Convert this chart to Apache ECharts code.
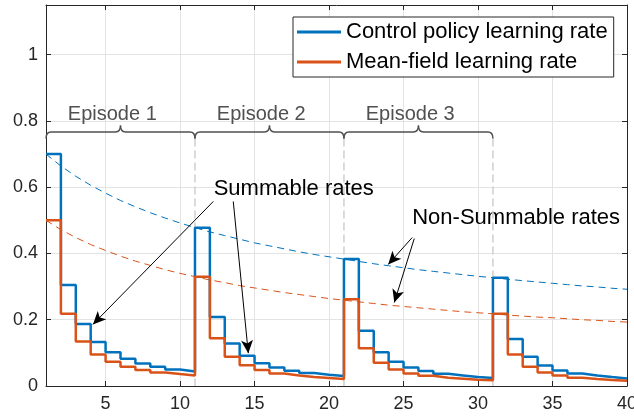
<!DOCTYPE html>
<html>
<head>
<meta charset="utf-8">
<script src="https://cdn.jsdelivr.net/npm/echarts@6/dist/echarts.min.js"></script>
<style>
  html, body { margin: 0; padding: 0; background: #fff; }
  #chart { width: 634px; height: 419px; }
</style>
</head>
<body>
<div id="chart"></div>
<script>
  // iteration index (each episode is 10 iterations long)
  const iterations = [1, 2, 3, 4, 5, 6, 7, 8, 9, 10, 11, 12, 13, 14, 15, 16, 17, 18, 19, 20,
    21, 22, 23, 24, 25, 26, 27, 28, 29, 30, 31, 32, 33, 34, 35, 36, 37, 38, 39, 40];

  // summable (stair) rates
  const controlRate = [
    0.700, 0.305, 0.187, 0.133, 0.102, 0.082, 0.068, 0.058, 0.050, 0.044,
    0.478, 0.208, 0.128, 0.091, 0.069, 0.056, 0.046, 0.039, 0.034, 0.030,
    0.383, 0.167, 0.102, 0.073, 0.056, 0.045, 0.037, 0.032, 0.027, 0.024,
    0.327, 0.142, 0.088, 0.062, 0.047, 0.038, 0.032, 0.027, 0.023, 0.021];
  const meanFieldRate = [
    0.500, 0.218, 0.134, 0.095, 0.073, 0.058, 0.048, 0.041, 0.036, 0.032,
    0.330, 0.144, 0.088, 0.063, 0.048, 0.038, 0.032, 0.027, 0.024, 0.021,
    0.262, 0.114, 0.070, 0.050, 0.038, 0.031, 0.025, 0.022, 0.019, 0.017,
    0.218, 0.095, 0.058, 0.041, 0.032, 0.025, 0.021, 0.018, 0.016, 0.014];

  // non-summable (dashed) rates
  const controlTrend = [
    0.700, 0.664, 0.633, 0.606, 0.582, 0.560, 0.541, 0.523, 0.507, 0.492,
    0.478, 0.465, 0.454, 0.443, 0.432, 0.423, 0.414, 0.405, 0.397, 0.390,
    0.383, 0.376, 0.369, 0.363, 0.357, 0.351, 0.346, 0.341, 0.336, 0.331,
    0.327, 0.322, 0.318, 0.314, 0.310, 0.306, 0.302, 0.299, 0.295, 0.292];
  const meanFieldTrend = [
    0.500, 0.472, 0.448, 0.427, 0.409, 0.392, 0.377, 0.364, 0.351, 0.340,
    0.330, 0.320, 0.312, 0.303, 0.296, 0.289, 0.282, 0.276, 0.270, 0.264,
    0.259, 0.254, 0.249, 0.244, 0.240, 0.236, 0.232, 0.228, 0.224, 0.221,
    0.218, 0.214, 0.211, 0.208, 0.206, 0.203, 0.200, 0.198, 0.195, 0.193];

  const xTicks = [5, 10, 15, 20, 25, 30, 35, 40];
  const yTicks = [0, 0.2, 0.4, 0.6, 0.8, 1];

  // episodes: [start, end]
  const episodes = [[1, 11], [11, 21], [21, 31]];
  const episodeLabels = ['Episode 1', 'Episode 2', 'Episode 3'];

  const FONT = '"Liberation Sans", Arial, Helvetica, sans-serif';
  const BLUE = '#0072BD';
  const ORANGE = '#D95319';
  const AXIS = '#262626';

  function pairs(ys) {
    return iterations.map((x, i) => [x, ys[i]]);
  }

  // 花括号 + 灰色虚线 + Episode 文字
  function renderBrace(params, api) {
    const s = api.value(0), e = api.value(1);
    const m = (s + e) / 2;
    const x0 = api.coord([s, 0.767])[0];
    const x1 = api.coord([e, 0.767])[0];
    const yl = api.coord([s, 0.767])[1];
    const [xm, yt] = api.coord([m, 0.787]);
    const ye = api.coord([s, 0.747])[1];
    const y0 = api.coord([s, 0])[1];
    const r = 5;
    const d = 'M' + x0 + ' ' + ye + ' Q' + x0 + ' ' + yl + ' ' + (x0 + r) + ' ' + yl +
      ' L' + (xm - r) + ' ' + yl + ' Q' + xm + ' ' + yl + ' ' + xm + ' ' + yt +
      ' Q' + xm + ' ' + yl + ' ' + (xm + r) + ' ' + yl +
      ' L' + (x1 - r) + ' ' + yl + ' Q' + x1 + ' ' + yl + ' ' + x1 + ' ' + ye;
    const labelPos = api.coord([m - 0.55, 0.82]);
    return {
      type: 'group',
      children: [
        {
          type: 'line',
          shape: {x1: x1, y1: ye, x2: x1, y2: y0},
          style: {stroke: '#cfcfcf', lineWidth: 1.5, lineDash: [8, 4]}
        },
        {
          type: 'path',
          shape: {pathData: d},
          style: {stroke: '#505050', fill: null, lineWidth: 1.5}
        },
        {
          type: 'text',
          style: {
            text: episodeLabels[params.dataIndex],
            x: labelPos[0], y: labelPos[1],
            align: 'center', verticalAlign: 'middle',
            font: '20px ' + FONT, fill: '#505050'
          }
        }
      ]
    };
  }

  const arrowLines = [
    [{coord: [12.23, 0.557]}, {coord: [4.15, 0.186]}],
    [{coord: [13.57, 0.557]}, {coord: [14.58, 0.099]}],
    [{coord: [25.58, 0.448]}, {coord: [23.97, 0.367]}],
    [{coord: [25.72, 0.445]}, {coord: [24.38, 0.252]}]
  ];

  const option = {
    animation: false,
    grid: {left: 46, right: 7, top: 5, bottom: 33, outerBoundsMode: 'none'},
    legend: {
      orient: 'vertical',
      left: 293,
      top: 17,
      data: ['Control policy learning rate', 'Mean-field learning rate'],
      icon: 'rect',
      itemWidth: 44,
      itemHeight: 3,
      itemGap: 8,
      padding: [4, 6, 4, 4],
      borderColor: AXIS,
      borderWidth: 1,
      backgroundColor: '#fff',
      textStyle: {fontSize: 22, color: '#000', fontFamily: FONT}
    },
    xAxis: [{
      type: 'value', min: 1, max: 40, position: 'bottom',
      axisLine: {show: true, onZero: false, lineStyle: {color: AXIS}},
      axisTick: {show: true, inside: true, length: 5, customValues: xTicks, lineStyle: {color: AXIS}},
      axisLabel: {customValues: xTicks, fontSize: 18, color: AXIS, margin: 9, fontFamily: FONT},
      splitLine: {show: true, lineStyle: {color: '#e3e3e3'}}
    }, {
      type: 'value', min: 1, max: 40, position: 'top',
      axisLine: {show: true, onZero: false, lineStyle: {color: AXIS}},
      axisTick: {show: true, inside: true, length: 5, customValues: xTicks, lineStyle: {color: AXIS}},
      axisLabel: {show: false},
      splitLine: {show: false}
    }],
    yAxis: [{
      type: 'value', min: 0, max: 1.15, position: 'left',
      axisLine: {show: true, onZero: false, lineStyle: {color: AXIS}},
      axisTick: {show: true, inside: true, length: 5, customValues: yTicks, lineStyle: {color: AXIS}},
      axisLabel: {customValues: yTicks, fontSize: 18, color: AXIS, margin: 8, fontFamily: FONT},
      splitLine: {show: true, lineStyle: {color: '#e3e3e3'}}
    }, {
      type: 'value', min: 0, max: 1.15, position: 'right',
      axisLine: {show: true, onZero: false, lineStyle: {color: AXIS}},
      axisTick: {show: true, inside: true, length: 5, customValues: yTicks, lineStyle: {color: AXIS}},
      axisLabel: {show: false},
      splitLine: {show: false}
    }],
    series: [
      {
        name: 'episodes',
        type: 'custom',
        silent: true,
        renderItem: renderBrace,
        data: episodes
      },
      {
        name: 'Control trend',
        type: 'line',
        color: BLUE,
        showSymbol: false,
        silent: true,
        lineStyle: {width: 1, type: [7, 5]},
        data: pairs(controlTrend)
      },
      {
        name: 'Mean-field trend',
        type: 'line',
        color: ORANGE,
        showSymbol: false,
        silent: true,
        lineStyle: {width: 1, type: [7, 5]},
        data: pairs(meanFieldTrend),
        markLine: {
          silent: true,
          symbol: ['none', 'arrow'],
          symbolSize: [9, 13],
          label: {show: false},
          lineStyle: {color: '#000', width: 1, type: 'solid'},
          emphasis: {disabled: true},
          data: arrowLines
        }
      },
      {
        name: 'Control policy learning rate',
        type: 'line',
        step: 'end',
        color: BLUE,
        showSymbol: false,
        lineStyle: {width: 2.5},
        data: pairs(controlRate)
      },
      {
        name: 'Mean-field learning rate',
        type: 'line',
        step: 'end',
        color: ORANGE,
        showSymbol: false,
        lineStyle: {width: 2.5},
        data: pairs(meanFieldRate)
      }
    ]
  };

  const chart = echarts.init(document.getElementById('chart'));
  chart.setOption(option);

  // annotation texts placed in data coordinates
  const notes = [
    {text: 'Summable rates', at: [17.63, 0.596]},
    {text: 'Non-Summable rates', at: [32.56, 0.506]}
  ];
  chart.setOption({
    graphic: notes.map(n => {
      const p = chart.convertToPixel({gridIndex: 0}, n.at);
      return {
        type: 'text',
        x: p[0], y: p[1],
        silent: true,
        style: {text: n.text, align: 'center', verticalAlign: 'middle', font: '22px ' + FONT, fill: '#000'}
      };
    })
  });
</script>
</body>
</html>
